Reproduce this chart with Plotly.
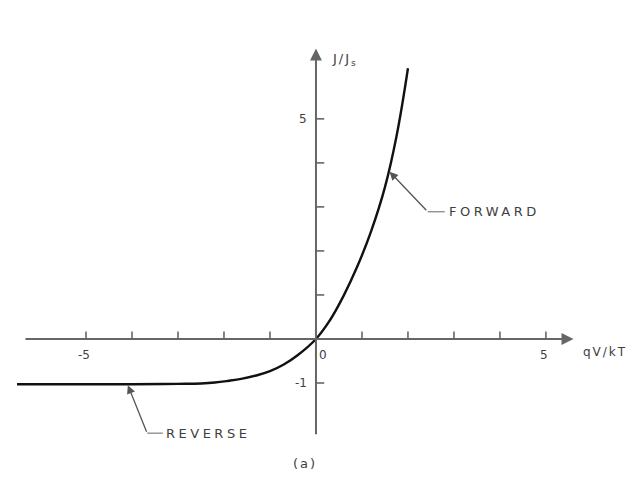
import plotly.graph_objects as go

# Normalised diode current J/Js versus qV/kT
qv_kt = [-6.5, -4.0, -3.0, -2.5, -2.2, -1.9, -1.6, -1.3, -1.0, -0.7, -0.4, 0.0,
         0.3, 0.6, 0.9, 1.2, 1.5, 1.75, 2.0]
j_over_js = [-1.03, -1.03, -1.02, -1.01, -0.99, -0.95, -0.90, -0.83, -0.73, -0.58, -0.37, 0.0,
             0.42, 0.98, 1.65, 2.45, 3.45, 4.6, 6.15]

x_ticks = [-5, -4, -3, -2, -1, 1, 2, 3, 4, 5]
y_ticks = [-1, 1, 2, 3, 4, 5]
x_tick_labels = {-5: "-5", 0: "0", 5: "5"}
y_tick_labels = {5: "5", -1: "-1"}

AXIS = "#666666"
TEXT = "#404040"
FONT = "DejaVu Sans"


def spaced(s, px=2):
    return f'<span style="letter-spacing:{px}px">{s}</span>'


fig = go.Figure()

# characteristic curve
fig.add_trace(go.Scatter(x=qv_kt, y=j_over_js, mode="lines",
                         line=dict(color="#111111", width=2.4, shape="spline", smoothing=1.2),
                         hoverinfo="skip"))

# tick marks: above the horizontal axis, to the right of the vertical axis
tx, ty = [], []
for v in x_ticks:
    tx += [v, v, None]
    ty += [0, 0.17, None]
for v in y_ticks:
    tx += [0, 0.18, None]
    ty += [v, v, None]
fig.add_trace(go.Scatter(x=tx, y=ty, mode="lines", line=dict(color=AXIS, width=1.6),
                         hoverinfo="skip"))

# leader lines for the curve labels
fig.add_trace(go.Scatter(x=[2.43, 2.80, None, -3.67, -3.33], y=[2.89, 2.89, None, -2.14, -2.14],
                         mode="lines", line=dict(color="#888888", width=1.3), hoverinfo="skip"))

ann = []
# axes with arrowheads
ann.append(dict(x=5.6, y=0, ax=-6.35, ay=0, xref="x", yref="y", axref="x", ayref="y",
                text="", showarrow=True, arrowhead=2, arrowsize=1.2, arrowwidth=2, arrowcolor=AXIS))
ann.append(dict(x=0, y=6.6, ax=0, ay=-2.2, xref="x", yref="y", axref="x", ayref="y",
                text="", showarrow=True, arrowhead=2, arrowsize=1.2, arrowwidth=2, arrowcolor=AXIS))
# leader arrows
ann.append(dict(x=1.6, y=3.8, ax=2.43, ay=2.89, xref="x", yref="y", axref="x", ayref="y",
                text="", showarrow=True, arrowhead=2, arrowsize=1.3, arrowwidth=1.3, arrowcolor="#555555"))
ann.append(dict(x=-4.09, y=-1.05, ax=-3.67, ay=-2.14, xref="x", yref="y", axref="x", ayref="y",
                text="", showarrow=True, arrowhead=2, arrowsize=1.3, arrowwidth=1.3, arrowcolor="#555555"))

f = dict(family=FONT, size=12, color=TEXT)
fl = dict(family=FONT, size=13, color=TEXT)
for v, s in x_tick_labels.items():
    ann.append(dict(x=v + (0.15 if v == 0 else -0.05), y=-0.36, text=s, showarrow=False, font=f))
for v, s in y_tick_labels.items():
    ann.append(dict(x=-0.28 if v > 0 else -0.33, y=v, text=s, showarrow=False, font=f))
ann.append(dict(x=6.28, y=-0.3, text=spaced("qV/kT", 2), showarrow=False, font=f))
ann.append(dict(x=0.63, y=6.35, text=spaced("J/J<sub>s</sub>", 2), showarrow=False, font=fl))
ann.append(dict(x=2.84, y=2.89, text=spaced("FORWARD", 3.5), showarrow=False, xanchor="left", font=fl))
ann.append(dict(x=-3.3, y=-2.14, text=spaced("REVERSE", 3.5), showarrow=False, xanchor="left", font=fl))
ann.append(dict(x=-0.24, y=-2.83, text=spaced("(a)", 2), showarrow=False, font=fl))

fig.update_layout(
    width=637, height=486,
    margin=dict(l=0, r=0, t=0, b=0),
    paper_bgcolor="white", plot_bgcolor="white",
    showlegend=False,
    xaxis=dict(range=[-6.87, 6.98], visible=False, fixedrange=True),
    yaxis=dict(range=[-3.34, 7.70], visible=False, fixedrange=True),
    annotations=ann,
)

fig.write_html("out.html")
